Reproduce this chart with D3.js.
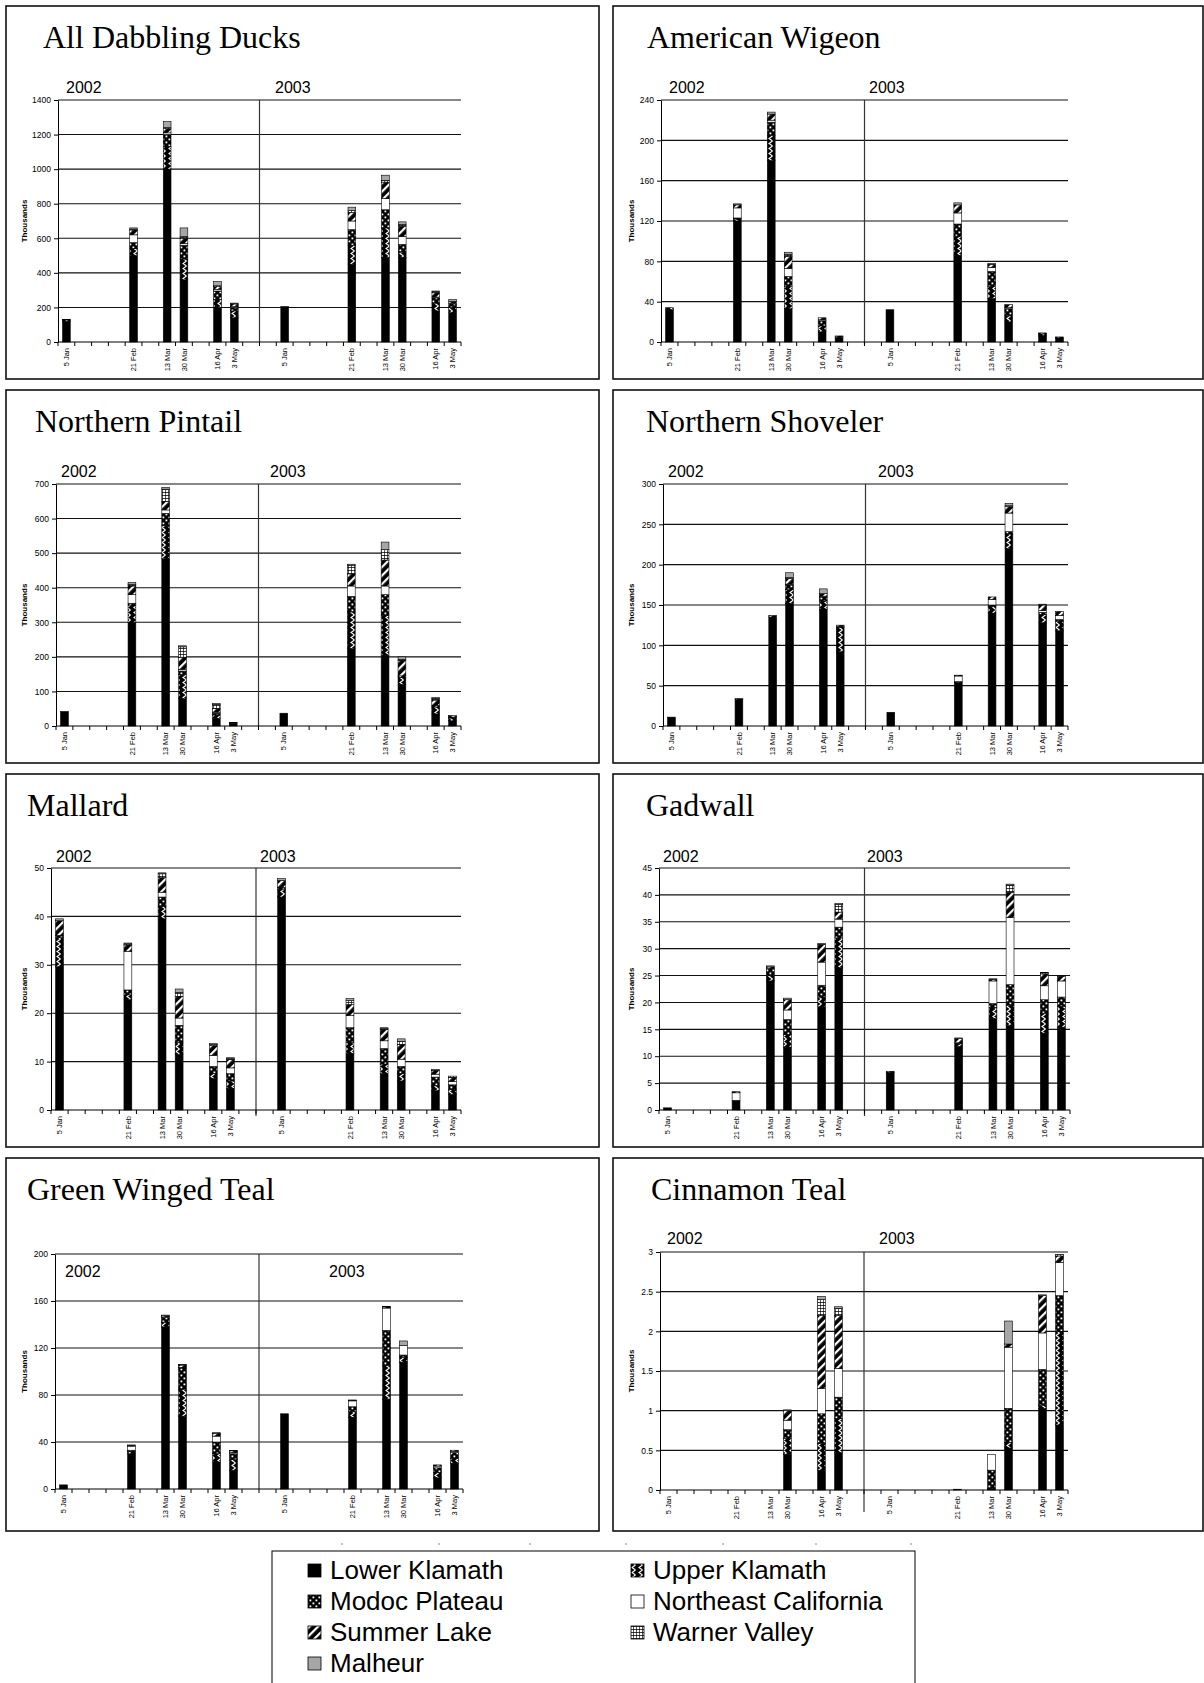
<!DOCTYPE html>
<html lang="en">
<head>
<meta charset="UTF-8">
<title>Dabbling ducks by region</title>
<script src="https://cdn.jsdelivr.net/npm/d3@7"></script>
<style>
  body { margin: 0; background: #fff; }
  svg { display: block; }
</style>
</head>
<body>
<div id="chart"></div>
<script>
// regions, bottom to top of each stack
const regions = ["Lower Klamath", "Upper Klamath", "Modoc Plateau", "Northeast California",
                 "Summer Lake", "Warner Valley", "Malheur"];

// 24 category slots (12 per year); only the survey dates carry a label
const slotLabels = ["5 Jan", "", "", "", "21 Feb", "", "13 Mar", "30 Mar", "", "16 Apr", "3 May", "",
                    "", "5 Jan", "", "", "", "21 Feb", "", "13 Mar", "30 Mar", "", "16 Apr", "3 May"];
// slot of each survey (2002 x6, 2003 x6)
const surveySlots = [0, 4, 6, 7, 9, 10, 13, 17, 19, 20, 22, 23];
const years = ["2002", "2003"];

// values in thousands, one row per region, one column per survey
const allDabbling = [
  [120, 500, 1000, 360, 200, 140, 205, 450, 490, 490, 180, 170],
  [8, 40, 130, 120, 45, 40, 0, 110, 170, 30, 45, 30],
  [0, 35, 70, 80, 50, 20, 0, 90, 105, 45, 30, 20],
  [0, 45, 10, 10, 10, 5, 0, 50, 65, 45, 5, 5],
  [2, 28, 25, 30, 15, 15, 0, 50, 95, 60, 25, 10],
  [0, 5, 5, 10, 5, 0, 0, 10, 10, 10, 5, 0],
  [0, 7, 35, 50, 25, 5, 0, 20, 30, 15, 5, 10]
];
const wigeon = [
  [32, 120, 180, 33, 10, 4, 32, 86, 43, 20, 6, 4],
  [2, 2, 25, 22, 6, 0, 0, 19, 12, 6, 0, 0],
  [0, 1, 13, 10, 5, 1, 0, 12, 15, 7, 2, 1],
  [0, 10, 2, 8, 1, 0, 0, 11, 4, 1, 0, 0],
  [0, 3, 6, 12, 2, 1, 0, 8, 3, 3, 1, 0],
  [0, 0, 0, 2, 0, 0, 0, 0, 0, 0, 0, 0],
  [0, 1, 2, 2, 0, 0, 0, 2, 1, 0, 0, 0]
];
const pintail = [
  [42, 300, 484, 79, 22, 8, 37, 224, 205, 120, 35, 15],
  [0, 50, 96, 70, 10, 1, 0, 106, 115, 20, 20, 8],
  [0, 5, 35, 10, 5, 0, 0, 45, 60, 5, 5, 3],
  [0, 25, 10, 5, 3, 0, 0, 30, 25, 0, 0, 0],
  [0, 25, 25, 35, 10, 1, 0, 35, 75, 45, 15, 4],
  [0, 5, 35, 30, 12, 0, 0, 25, 30, 3, 5, 0],
  [0, 5, 5, 3, 3, 0, 0, 3, 22, 7, 2, 0]
];
const shoveler = [
  [11, 33, 135, 152, 145, 92, 17, 54, 140, 220, 128, 118],
  [0, 1, 2, 17, 10, 30, 0, 1, 8, 18, 10, 12],
  [0, 0, 0, 6, 5, 1, 0, 0, 2, 3, 3, 2],
  [0, 0, 0, 1, 1, 0, 0, 7, 7, 23, 2, 5],
  [0, 0, 0, 7, 3, 2, 0, 1, 3, 8, 7, 5],
  [0, 0, 0, 1, 0, 0, 0, 0, 0, 1, 0, 0],
  [0, 0, 0, 6, 6, 0, 0, 0, 0, 3, 1, 0]
];
const mallard = [
  [29.6, 22.8, 39.5, 11.5, 6.5, 4.5, 44, 11.7, 7.5, 6, 4, 3.2],
  [6, 1, 2.5, 2.5, 1, 1.5, 1.5, 2.3, 2, 1.5, 1, 1],
  [0.5, 1, 2, 3.5, 1.5, 1.5, 0.5, 3, 3.2, 1.5, 1.8, 1],
  [0, 8, 1, 1.5, 2.3, 1.2, 0, 2.5, 1.6, 1.5, 0.6, 0.7],
  [3, 1.3, 3, 4.5, 2, 1.7, 1.4, 2.3, 2.3, 3, 0.8, 0.8],
  [0, 0.2, 0.8, 0.8, 0.2, 0.2, 0, 0.8, 0.2, 0.7, 0, 0.3],
  [0.4, 0.2, 0.2, 0.7, 0.2, 0.2, 0.4, 0.4, 0.2, 0.5, 0.2, 0]
];
const gadwall = [
  [0.4, 1.8, 24, 11.7, 19.2, 26.5, 7, 11.8, 17, 15.7, 14.3, 15.4],
  [0, 0, 1, 2.3, 1.8, 5.5, 0.2, 0.5, 2, 3.8, 3.7, 3.9],
  [0, 0, 1.3, 2.8, 2.2, 2, 0, 0.2, 0.8, 3.8, 2.5, 1.7],
  [0, 1.4, 0, 1.8, 4.3, 1.5, 0, 0, 4.2, 12.5, 2.6, 3],
  [0, 0.2, 0.3, 1.9, 3.3, 1.3, 0, 0.8, 0.3, 4.7, 2.2, 0.9],
  [0, 0, 0, 0, 0, 1.4, 0, 0, 0, 1.3, 0.2, 0],
  [0, 0, 0.2, 0.3, 0.2, 0.2, 0, 0.1, 0.1, 0.2, 0.1, 0.1]
];
const greenWinged = [
  [3.5, 30, 138, 62, 23, 16, 64, 61, 76.5, 108, 9.5, 22],
  [0, 2, 4, 23, 7, 9, 0, 5, 28.5, 4, 4.5, 4],
  [0, 1, 4, 18, 10, 5, 0, 4, 30, 2, 4, 5],
  [0, 3.5, 0.5, 0.5, 5, 1, 0, 5, 19, 8, 1.5, 1],
  [0, 0.7, 1, 2, 2.5, 1.5, 0, 0.6, 1, 0, 1, 1],
  [0, 0, 0, 0, 0, 0, 0, 0, 0, 0, 0, 0],
  [0, 0.3, 0.5, 0.5, 0.4, 0.4, 0, 0.1, 0.2, 4, 0, 0]
];
const cinnamon = [
  [0, 0, 0, 0.45, 0.25, 0.47, 0, 0.01, 0.02, 0.53, 1.03, 0.82],
  [0, 0, 0, 0.2, 0.34, 0.43, 0, 0, 0, 0.07, 0.04, 1.18],
  [0, 0, 0, 0.11, 0.37, 0.27, 0, 0, 0.23, 0.43, 0.45, 0.45],
  [0, 0, 0, 0.12, 0.32, 0.36, 0, 0, 0.2, 0.77, 0.46, 0.42],
  [0, 0, 0, 0.12, 0.92, 0.67, 0, 0, 0, 0.04, 0.47, 0.08],
  [0, 0, 0, 0, 0.2, 0.09, 0, 0, 0, 0, 0, 0.02],
  [0, 0, 0, 0.01, 0.04, 0.02, 0, 0, 0, 0.29, 0.01, 0]
];

// y tick values per panel
const ticksDabbling = [0, 200, 400, 600, 800, 1000, 1200, 1400];
const ticksWigeon = [0, 40, 80, 120, 160, 200, 240];
const ticksPintail = [0, 100, 200, 300, 400, 500, 600, 700];
const ticksShoveler = [0, 50, 100, 150, 200, 250, 300];
const ticksMallard = [0, 10, 20, 30, 40, 50];
const ticksGadwall = [0, 5, 10, 15, 20, 25, 30, 35, 40, 45];
const ticksGreenWinged = [0, 40, 80, 120, 160, 200];
const ticksCinnamon = [0, 0.5, 1, 1.5, 2, 2.5, 3];

// panel layout (offsets relative to each box)
const panels = [
  {title: "All Dabbling Ducks", data: allDabbling, ticks: ticksDabbling, col: 0, row: 0,
   axis: 52, right: 455, tx: 37, y02: 60, y03: 269, yy: 87, top: 94, bottom: 336, divExt: 0},
  {title: "American Wigeon", data: wigeon, ticks: ticksWigeon, col: 1, row: 0,
   axis: 48, right: 455, tx: 34, y02: 56, y03: 256, yy: 87, top: 94, bottom: 336, divExt: 3},
  {title: "Northern Pintail", data: pintail, ticks: ticksPintail, col: 0, row: 1,
   axis: 50, right: 455, tx: 29, y02: 55, y03: 264, yy: 87, top: 94, bottom: 336, divExt: 0},
  {title: "Northern Shoveler", data: shoveler, ticks: ticksShoveler, col: 1, row: 1,
   axis: 50, right: 455, tx: 33, y02: 55, y03: 265, yy: 87, top: 94, bottom: 336, divExt: 3},
  {title: "Mallard", data: mallard, ticks: ticksMallard, col: 0, row: 2,
   axis: 45, right: 455, tx: 21, y02: 50, y03: 254, yy: 88, top: 94, bottom: 336, divExt: 6},
  {title: "Gadwall", data: gadwall, ticks: ticksGadwall, col: 1, row: 2,
   axis: 46, right: 457, tx: 33, y02: 50, y03: 254, yy: 88, top: 94, bottom: 336, divExt: 6},
  {title: "Green Winged Teal", data: greenWinged, ticks: ticksGreenWinged, col: 0, row: 3,
   axis: 49, right: 457, tx: 21, y02: 59, y03: 323, yy: 119, top: 96, bottom: 331, divExt: 0},
  {title: "Cinnamon Teal", data: cinnamon, ticks: ticksCinnamon, col: 1, row: 3,
   axis: 47, right: 455, tx: 38, y02: 54, y03: 266, yy: 86, top: 94, bottom: 332, divExt: 22}
];

const W = 1204, H = 1683;
const boxX = [6, 613], boxW = [593, 590];
const boxY = [6, 390, 774, 1158], boxH = 373;
const sans = "'Liberation Sans', Arial, sans-serif";
const serif = "'Liberation Serif', 'Times New Roman', serif";

const svg = d3.select("#chart").append("svg")
  .attr("width", W).attr("height", H);

// fill patterns
const defs = svg.append("defs");
function pat(id, w, h, build, tf) {
  const p = defs.append("pattern").attr("id", id)
    .attr("patternUnits", "userSpaceOnUse").attr("width", w).attr("height", h);
  if (tf) p.attr("patternTransform", tf);
  build(p);
}
pat("pUK", 7, 5, p => {
  p.append("rect").attr("width", 7).attr("height", 5).attr("fill", "#000");
  p.append("path").attr("d", "M5.5,0 L2,2.5 L5.5,5").attr("fill", "none")
    .attr("stroke", "#fff").attr("stroke-width", 1.1);
});
pat("pMP", 6, 6, p => {
  p.append("rect").attr("width", 6).attr("height", 6).attr("fill", "#000");
  p.append("rect").attr("x", 0.5).attr("y", 0.5).attr("width", 1.8).attr("height", 1.8).attr("fill", "#fff");
  p.append("rect").attr("x", 3.5).attr("y", 3.5).attr("width", 1.8).attr("height", 1.8).attr("fill", "#fff");
});
pat("pSL", 6, 6, p => {
  p.append("rect").attr("width", 6).attr("height", 6).attr("fill", "#000");
  p.append("rect").attr("width", 2.2).attr("height", 6).attr("fill", "#fff");
}, "rotate(45)");
pat("pWV", 3, 3, p => {
  p.append("rect").attr("width", 3).attr("height", 3).attr("fill", "#fff");
  p.append("path").attr("d", "M0,0 H3 M0,0 V3").attr("stroke", "#000").attr("stroke-width", 1.3);
});
const fills = ["#000", "url(#pUK)", "url(#pMP)", "#fff", "url(#pSL)", "url(#pWV)", "#a6a6a6"];

panels.forEach(pn => {
  const bx = boxX[pn.col], by = boxY[pn.row];
  const g = svg.append("g").attr("transform", `translate(${bx},${by})`);

  g.append("rect").attr("x", 0).attr("y", 0).attr("width", boxW[pn.col]).attr("height", boxH)
    .attr("fill", "none").attr("stroke", "#111").attr("stroke-width", 1.6);

  g.append("text").attr("x", pn.tx).attr("y", 42)
    .style("font-family", serif).style("font-size", "32px").attr("fill", "#000")
    .text(pn.title);

  const x = d3.scaleBand().domain(d3.range(slotLabels.length))
    .range([pn.axis, pn.right]).padding(0);
  const y = d3.scaleLinear().domain([0, d3.max(pn.ticks)]).range([pn.bottom, pn.top]);

  // grid lines
  g.append("g").selectAll("line").data(pn.ticks.slice(1)).join("line")
    .attr("x1", pn.axis).attr("x2", pn.right)
    .attr("y1", d => y(d)).attr("y2", d => y(d))
    .attr("stroke", "#111").attr("stroke-width", 1.1);

  // year divider
  const xDiv = x(12);
  g.append("line").attr("x1", xDiv).attr("x2", xDiv)
    .attr("y1", pn.top).attr("y2", pn.bottom + pn.divExt)
    .attr("stroke", "#333").attr("stroke-width", 1.2);

  // stacked bars
  const cols = surveySlots.map((s, j) => {
    const o = {slot: s};
    regions.forEach((r, k) => { o[r] = pn.data[k][j]; });
    return o;
  });
  const stack = d3.stack().keys(regions)(cols);
  const bw = x.bandwidth() * 0.46;
  stack.forEach((layer, k) => {
    g.append("g").selectAll("rect").data(layer.filter(d => d[1] - d[0] > 0)).join("rect")
      .attr("x", d => x(d.data.slot) + (x.bandwidth() - bw) / 2)
      .attr("width", bw)
      .attr("y", d => y(d[1]))
      .attr("height", d => y(d[0]) - y(d[1]))
      .attr("fill", fills[k])
      .attr("stroke", "#000").attr("stroke-width", 0.6);
  });

  // y axis
  const ya = g.append("g").attr("transform", `translate(${pn.axis},0)`)
    .call(d3.axisLeft(y).tickValues(pn.ticks).tickSize(4).tickSizeOuter(0).tickPadding(3)
      .tickFormat(d => String(d)));
  ya.select(".domain").attr("stroke", "#000");
  ya.selectAll(".tick line").attr("stroke", "#000");
  ya.selectAll("text").style("font-family", sans).style("font-size", "8.5px").attr("fill", "#000");

  // x axis with boundary ticks
  const bounds = d3.range(slotLabels.length + 1).map(i => pn.axis + i * x.step());
  g.append("line").attr("x1", pn.axis).attr("x2", pn.right)
    .attr("y1", pn.bottom).attr("y2", pn.bottom).attr("stroke", "#000").attr("stroke-width", 1.2);
  g.append("g").selectAll("line").data(bounds).join("line")
    .attr("x1", d => d).attr("x2", d => d)
    .attr("y1", pn.bottom).attr("y2", pn.bottom + 4).attr("stroke", "#000");
  g.append("g").selectAll("text").data(slotLabels.map((l, i) => ({l, i})).filter(d => d.l))
    .join("text")
    .attr("transform", d => `translate(${x(d.i) + x.bandwidth() / 2},${pn.bottom + 6}) rotate(-90)`)
    .attr("text-anchor", "end").attr("dy", "0.35em")
    .style("font-family", sans).style("font-size", "7.5px").attr("fill", "#000")
    .text(d => d.l);

  // axis title
  g.append("text")
    .attr("transform", `translate(18,${(pn.top + pn.bottom) / 2}) rotate(-90)`)
    .attr("text-anchor", "middle").attr("dy", "0.35em")
    .style("font-family", sans).style("font-size", "8px").style("font-weight", "bold")
    .text("Thousands");

  // year labels
  g.append("text").attr("x", pn.y02).attr("y", pn.yy)
    .style("font-family", sans).style("font-size", "16px").text(years[0]);
  g.append("text").attr("x", pn.y03).attr("y", pn.yy)
    .style("font-family", sans).style("font-size", "16px").text(years[1]);
});

// stray marks above legend
const markX = [342, 439, 530, 626, 723, 816, 911];
svg.append("g").selectAll("line").data(markX).join("line")
  .attr("x1", d => d).attr("x2", d => d).attr("y1", 1543).attr("y2", 1545)
  .attr("stroke", "#888");

// legend
const lg = svg.append("g");
lg.append("rect").attr("x", 272).attr("y", 1551).attr("width", 643).attr("height", 200)
  .attr("fill", "#fff").attr("stroke", "#000").attr("stroke-width", 1);
const legendPos = [[0, 0], [1, 0], [0, 1], [1, 1], [0, 2], [1, 2], [0, 3]];
regions.forEach((name, k) => {
  const [c, r] = legendPos[k];
  const sx = c === 0 ? 308 : 631;
  const base = 1579 + r * 31;
  lg.append("rect").attr("x", sx).attr("y", base - 15).attr("width", 13).attr("height", 13)
    .attr("fill", fills[k]).attr("stroke", "#000").attr("stroke-width", 0.8);
  lg.append("text").attr("x", sx + 22).attr("y", base)
    .style("font-family", sans).style("font-size", "26px").attr("fill", "#000")
    .text(name);
});
</script>
</body>
</html>
